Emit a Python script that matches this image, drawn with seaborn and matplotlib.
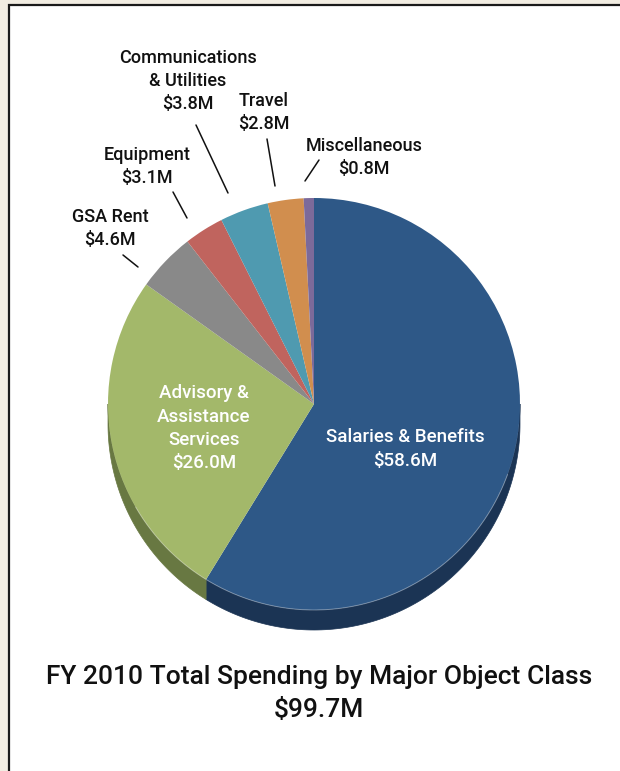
import numpy as np
import matplotlib
matplotlib.use("Agg")
import matplotlib.pyplot as plt
from matplotlib import font_manager
from matplotlib.patches import Polygon, Rectangle
import seaborn as sns

# FY 2010 spending by major object class ($M), clockwise from 12 o'clock
categories = ["Salaries & Benefits", "Advisory & Assistance Services", "GSA Rent",
              "Equipment", "Communications & Utilities", "Travel", "Miscellaneous"]
values = [58.6, 26.0, 4.6, 3.1, 3.8, 2.8, 0.8]
total_label = "$99.7M"
title = "FY 2010 Total Spending by Major Object Class"

top_colors = ["#2E5887", "#A3B86A", "#898989", "#C0645E", "#4F9AB0", "#D18E4E", "#7C6A9A"]
side_colors = ["#1B3454", "#687842", "#555555", "#7A3E3A", "#2F6273", "#8A5A2F", "#4E4266"]

sns.set_theme(style="white")
available = {f.name for f in font_manager.fontManager.ttflist}
family = next((f for f in ["Roboto", "Liberation Sans"] if f in available), "DejaVu Sans")
plt.rcParams["font.family"] = [family, "DejaVu Sans"]

W, H = 620, 771
fig = plt.figure(figsize=(W / 100, H / 100), dpi=100)
fig.patch.set_facecolor("#F2EDE2")
ax = fig.add_axes([0, 0, 1, 1])


def py(y):
    return H - y


cx, cy, r, depth = 314, py(404), 206, 20
total = sum(values)

# pie top face
wedges, _ = ax.pie(values, colors=top_colors, startangle=90, counterclock=False,
                   center=(cx, cy), radius=r, frame=True,
                   wedgeprops=dict(linewidth=0, zorder=3))
ax.set_xlim(0, W)
ax.set_ylim(0, H)
ax.set_aspect("equal")
ax.axis("off")

# white panel with dark border on the top and left
ax.add_patch(Rectangle((9, -10), W + 20, py(5) + 10, facecolor="white",
                       edgecolor="#1A1A1A", linewidth=1.6, zorder=0))

# extruded side of the pie for the slices facing the viewer
cum = 0.0
for v, c in zip(values, side_colors):
    a_start = 90 - cum / total * 360
    cum += v
    a_end = 90 - cum / total * 360
    lo, hi = max(a_end, -180), min(a_start, 0)
    if hi > lo:
        t = np.radians(np.linspace(lo, hi, 120))
        x = cx + r * np.cos(t)
        y = cy + r * np.sin(t)
        pts = np.vstack([np.column_stack([x, y]),
                         np.column_stack([x[::-1], y[::-1] - depth])])
        ax.add_patch(Polygon(pts, closed=True, facecolor=c, edgecolor=c,
                             linewidth=0.5, zorder=2))

# faint highlight along the front rim of the top face
t = np.radians(np.linspace(-150, -20, 200))
ax.plot(cx + r * np.cos(t), cy + r * np.sin(t), color="white", alpha=0.35,
        linewidth=0.7, zorder=4)


def label(x, y_top, lines, color="#111111", step=23, size=13):
    for i, s in enumerate(lines):
        ax.text(x, py(y_top + i * step), s, ha="center", va="center", fontsize=size,
                fontweight="medium", color=color, zorder=5)


label(188, 58, ["Communications", "& Utilities", "$3.8M"])
label(264, 101, ["Travel", "$2.8M"])
label(364, 146, ["Miscellaneous", "$0.8M"])
label(147, 155, ["Equipment", "$3.1M"])
label(110, 217, ["GSA Rent", "$4.6M"])
label(204, 393, ["Advisory &", "Assistance", "Services", "$26.0M"], color="white",
      step=23.5, size=13.5)
label(405, 437, ["Salaries & Benefits", "$58.6M"], color="white", step=24, size=13.5)

# leader lines from labels to their slices
leaders = [((196, 125), (228, 193)), ((267, 139), (275, 186)),
           ((319, 160), (305, 181)), ((173, 192), (187, 218)),
           ((123, 255), (138, 267))]
for (x0, y0), (x1, y1) in leaders:
    ax.plot([x0, x1], [py(y0), py(y1)], color="#111111", linewidth=1.1, zorder=5)

ax.text(319, py(677), title, ha="center", va="center", fontsize=19,
        fontweight="medium", color="#111111")
ax.text(319, py(710), total_label, ha="center", va="center", fontsize=19,
        fontweight="medium", color="#111111")

fig.savefig("out.png", dpi=100, facecolor=fig.get_facecolor())
